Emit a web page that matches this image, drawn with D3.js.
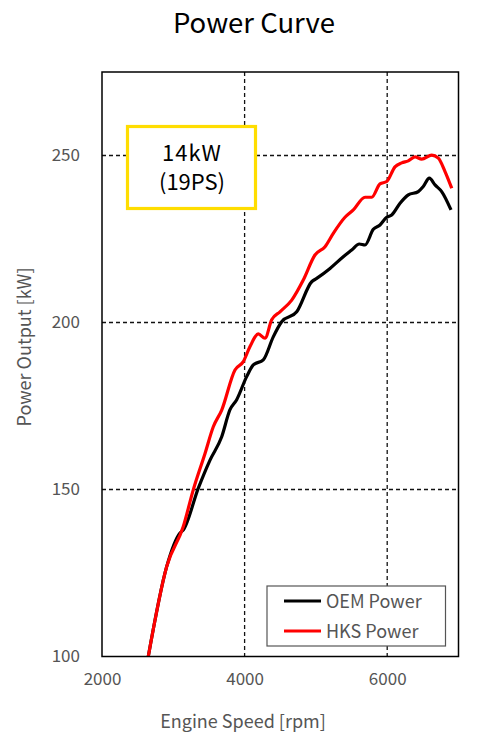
<!DOCTYPE html>
<html>
  <head>
    <meta charset="utf-8">
    <title>Power Curve</title>
    <style>
      body {
        margin: 0;
        background-color: white;
      }
      svg text {
        font-family: "Noto Sans CJK JP", "Noto Sans", sans-serif;
      }
    </style>
  </head>
  <body>
    <div id="chart"></div>

    <script src="https://d3js.org/d3.v7.min.js"></script>
    <script>
    // values (rpm, kW)
    var oemRpm = [2649, 2907, 3094, 3140, 3351, 3515, 3679, 3795, 3889, 4029, 4122, 4262, 4402, 4520,
      4731, 4941, 5011, 5198, 5384, 5502, 5609, 5689, 5805, 5899, 5993, 6063, 6180, 6296, 6436,
      6506, 6591, 6671, 6764, 6895];
    var oemKw = [100, 126.9, 137, 137.9, 150.4, 158.8, 165.8, 173.9, 176.9, 183.8, 187.3, 188.8, 195.7, 200.2,
      203.2, 212.2, 213.2, 216.2, 219.7, 221.7, 223.5, 223.2, 227.9, 229.2, 231.5, 232.2, 235.7, 238.2, 239.2,
      240.7, 243.2, 241.2, 239.2, 233.7];

    var hksRpm = [2649, 2907, 3140, 3280, 3445, 3561, 3679, 3865, 3982, 4076, 4192, 4286, 4380, 4496,
      4661, 4823, 4987, 5128, 5244, 5408, 5525, 5689, 5783, 5899, 5993, 6109, 6203, 6296, 6390,
      6484, 6624, 6717, 6811, 6905];
    var hksKw = [100, 126.9, 138.9, 149.9, 160.8, 168.8, 173.8, 185.8, 188.3, 192.8, 196.6, 195.3, 200.8, 203.2,
      206.7, 212.7, 220.2, 222.7, 226.7, 231.5, 233.7, 237.5, 237.5, 241.5, 242.2, 246.6, 247.8, 248.4, 249.6,
      248.9, 250.1, 249.2, 245.2, 240.2];

    var xTicks = [2000, 4000, 6000];
    var yTicks = [100, 150, 200, 250];
    var seriesNames = ["OEM Power", "HKS Power"];
    var seriesColors = ["black", "#ff0000"];
    var noteLines = ["14kW", "(19PS)"];

    var width = 480;
    var height = 745;
    var margin = {top: 72, right: 21.5, bottom: 88.5, left: 102};
    var w = width - margin.left - margin.right;
    var h = height - margin.top - margin.bottom;

    var svg = d3.select("#chart").append("svg")
      .attr("width", width)
      .attr("height", height);

    var x = d3.scaleLinear().domain([2000, 7000]).range([0, w]);
    var y = d3.scaleLinear().domain([100, 275]).range([h, 0]);

    var g = svg.append("g")
      .attr("transform", "translate(" + margin.left + "," + margin.top + ")");

    svg.append("defs").append("clipPath").attr("id", "plot")
      .append("rect").attr("width", w).attr("height", h);

    // dashed grid
    g.selectAll(".vgrid")
      .data([4000, 6000])
      .enter().append("line")
      .attr("x1", function(d) { return x(d); })
      .attr("x2", function(d) { return x(d); })
      .attr("y1", 0).attr("y2", h)
      .attr("stroke", "#111").attr("stroke-width", 1.3)
      .attr("stroke-dasharray", "4,3");

    g.selectAll(".hgrid")
      .data([150, 200, 250])
      .enter().append("line")
      .attr("y1", function(d) { return y(d); })
      .attr("y2", function(d) { return y(d); })
      .attr("x1", 0).attr("x2", w)
      .attr("stroke", "#111").attr("stroke-width", 1.3)
      .attr("stroke-dasharray", "4,3");

    // axes (labels only)
    var xAxis = g.append("g")
      .attr("transform", "translate(0," + h + ")")
      .call(d3.axisBottom(x).tickValues(xTicks).tickFormat(d3.format("d")).tickSize(0).tickPadding(16));
    var yAxis = g.append("g")
      .call(d3.axisLeft(y).tickValues(yTicks).tickFormat(d3.format("d")).tickSize(0).tickPadding(22));
    [xAxis, yAxis].forEach(function(a) {
      a.select(".domain").remove();
      a.selectAll("text")
        .attr("fill", "#555")
        .style("font-size", "17px")
        .style("font-family", "'Noto Sans CJK JP', sans-serif");
    });

    // curves
    var line = d3.line()
      .x(function(d) { return x(d[0]); })
      .y(function(d) { return y(d[1]); })
      .curve(d3.curveMonotoneX);

    var series = [d3.zip(oemRpm, oemKw), d3.zip(hksRpm, hksKw)];
    g.append("g").attr("clip-path", "url(#plot)")
      .selectAll("path")
      .data(series)
      .enter().append("path")
      .attr("d", line)
      .attr("fill", "none")
      .attr("stroke", function(d, i) { return seriesColors[i]; })
      .attr("stroke-width", 3.2)
      .attr("stroke-linejoin", "round");

    // frame
    g.append("rect")
      .attr("width", w).attr("height", h)
      .attr("fill", "none")
      .attr("stroke", "black")
      .attr("stroke-width", 1.5);

    // annotation box
    g.append("rect")
      .attr("x", 127.5 - margin.left).attr("y", 126.5 - margin.top)
      .attr("width", 128).attr("height", 82)
      .attr("fill", "white")
      .attr("stroke", "#ffdd00")
      .attr("stroke-width", 3.2);
    g.selectAll(".note")
      .data(noteLines)
      .enter().append("text")
      .attr("x", 192 - margin.left)
      .attr("y", function(d, i) { return 161 - margin.top + i * 29; })
      .attr("text-anchor", "middle")
      .attr("fill", "black")
      .attr("letter-spacing", function(d, i) { return i === 0 ? "1px" : "0px"; })
      .style("font-size", "22px")
      .text(function(d) { return d; });

    // legend
    var lg = g.append("g")
      .attr("transform", "translate(" + (267 - margin.left) + "," + (586 - margin.top) + ")");
    lg.append("rect")
      .attr("width", 178.5).attr("height", 60)
      .attr("fill", "white")
      .attr("stroke", "#555")
      .attr("stroke-width", 1.2);
    var items = lg.selectAll(".item")
      .data(seriesNames)
      .enter().append("g")
      .attr("transform", function(d, i) { return "translate(0," + (15 + i * 30) + ")"; });
    items.append("line")
      .attr("x1", 17).attr("x2", 54)
      .attr("stroke", function(d, i) { return seriesColors[i]; })
      .attr("stroke-width", 3.2);
    items.append("text")
      .attr("x", 59).attr("y", 6.5)
      .attr("fill", "#555")
      .style("font-size", "18px")
      .text(function(d) { return d; });

    // titles
    svg.append("text")
      .attr("x", 254).attr("y", 33)
      .attr("text-anchor", "middle")
      .attr("fill", "black")
      .style("font-size", "27.5px")
      .text("Power Curve");

    svg.append("text")
      .attr("x", 243).attr("y", 728)
      .attr("text-anchor", "middle")
      .attr("fill", "#555")
      .style("font-size", "18px")
      .text("Engine Speed [rpm]");

    svg.append("text")
      .attr("transform", "translate(31,347) rotate(-90)")
      .attr("text-anchor", "middle")
      .attr("fill", "#555")
      .style("font-size", "18px")
      .text("Power Output [kW]");
    </script>
  </body>
</html>
